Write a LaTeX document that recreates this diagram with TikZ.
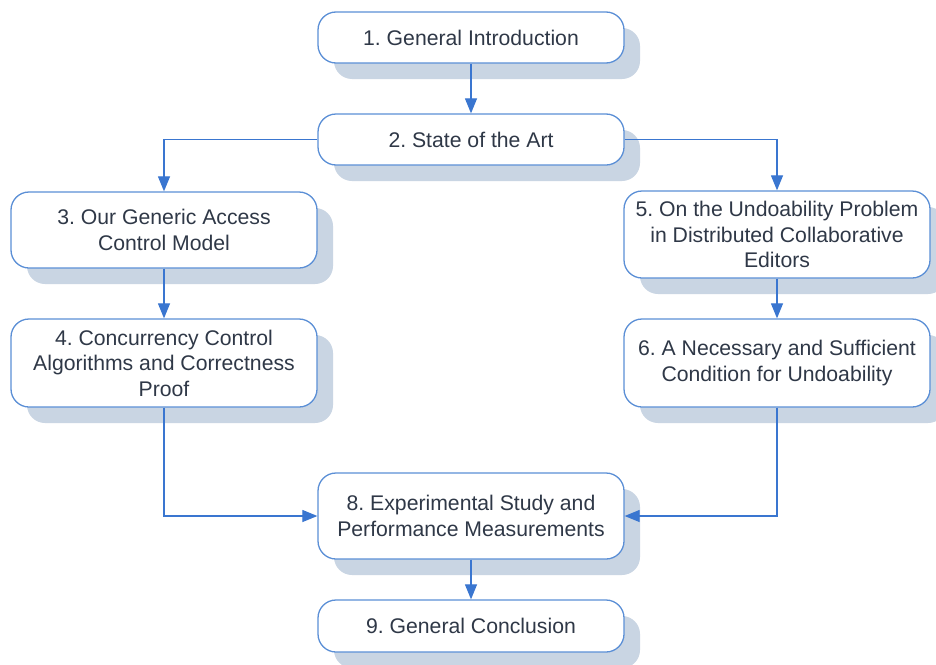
\documentclass[tikz,border=0pt]{standalone}
\usepackage{fontspec}
\setmainfont{Liberation Sans}
\usetikzlibrary{shadows,arrows.meta}
\definecolor{bordc}{HTML}{5B8FD6}
\definecolor{arrc}{HTML}{3A76D0}
\definecolor{shadc}{HTML}{C9D5E3}
\definecolor{txtc}{HTML}{2F3847}
\frenchspacing
\begin{document}
\begin{tikzpicture}[x=1pt,y=-1pt,
 box/.style={draw=bordc, line width=1.3pt, fill=white, rounded corners=18pt,
   minimum width=306pt, align=center, font=\fontsize{21.2}{25.5}\selectfont, text=txtc,
   drop shadow={shadow xshift=16pt, shadow yshift=-16pt, fill=shadc, opacity=1},
   inner sep=0pt},
 arr/.style={draw=arrc, line width=1.2pt, -{Triangle[length=15pt,width=12pt]}}]
\useasboundingbox[fill=white] (0,0) rectangle (936,664);
\node[box, minimum height=51pt] (b1) at (471,37.5) {1. General Introduction};
\node[box, minimum height=51pt] (b2) at (471,139.5) {2. State of the Art};
\node[box, minimum height=76pt] (b3) at (164,230) {3. Our Generic Access\\Control Model};
\node[box, minimum height=88pt] (b4) at (164,363) {4. Concurrency Control\\Algorithms and Correctness\\Proof};
\node[box, minimum height=87pt] (b5) at (777,234.5) {5. On the Undoability Problem\\in Distributed Collaborative\\Editors};
\node[box, minimum height=88pt] (b6) at (777,363) {6. A Necessary and Sufficient\\Condition for Undoability};
\node[box, minimum height=86pt] (b8) at (471,516) {8. Experimental Study and\\Performance Measurements};
\node[box, minimum height=52pt] (b9) at (471,626) {9. General Conclusion};
\draw[arr] (b1) -- (b2);
\draw[arr] (b2.west) -| (b3.north);
\draw[arr] (b2.east) -| (b5.north);
\draw[arr] (b3) -- (b4);
\draw[arr] (b5) -- (b6);
\draw[arr] (b4.south) |- (b8.west);
\draw[arr] (b6.south) |- (b8.east);
\draw[arr] (b8) -- (b9);
\end{tikzpicture}
\end{document}
